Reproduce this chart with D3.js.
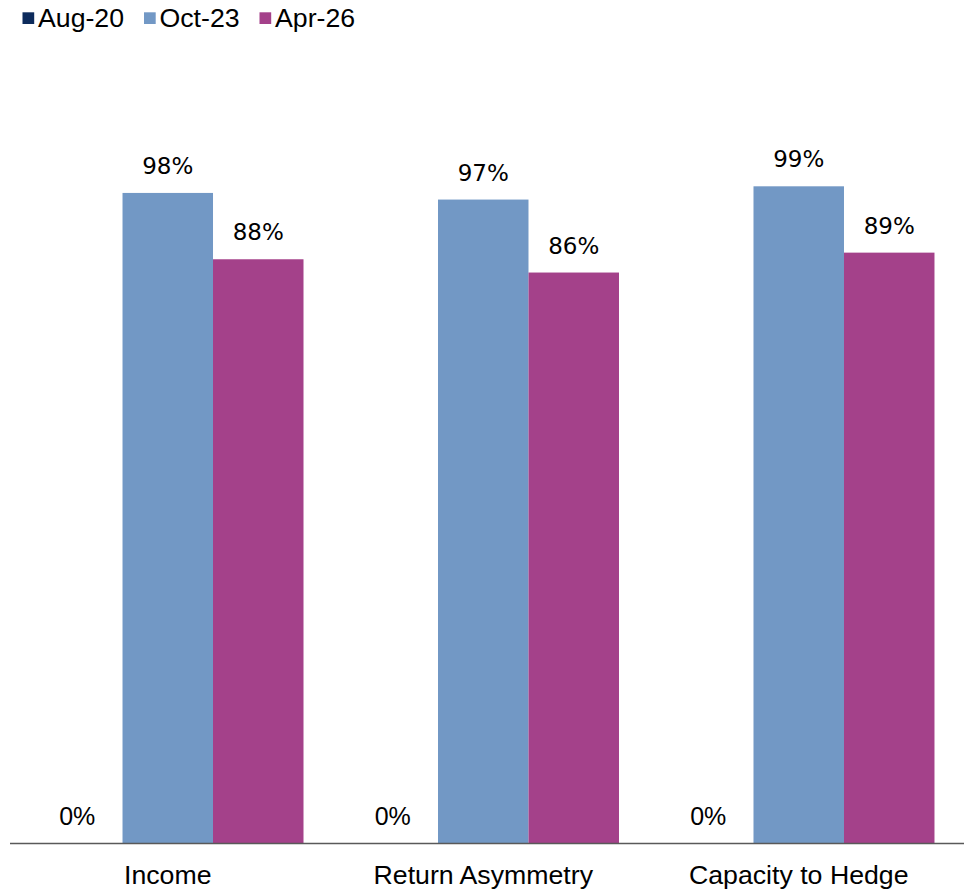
<!DOCTYPE html>
<html>
<head>
<meta charset="utf-8">
<script src="https://cdn.jsdelivr.net/npm/d3@7"></script>
<style>
  html, body { margin: 0; padding: 0; background: #fff; }
  svg { display: block; }
</style>
</head>
<body>
<svg id="chart" width="964" height="891"></svg>
<script>
// Survey shares by category for three periods
const categories = ["Income", "Return Asymmetry", "Capacity to Hedge"];
const seriesNames = ["Aug-20", "Oct-23", "Apr-26"];
const aug20 = [0, 0, 0];
const oct23 = [0.98, 0.97, 0.99];
const apr26 = [0.88, 0.86, 0.89];
const seriesColors = ["#0d2b5c", "#7298c5", "#a4418a"];

const seriesValues = [aug20, oct23, apr26];
const rows = categories.map((c, i) => ({
  category: c,
  values: seriesNames.map((s, j) => ({ series: s, value: seriesValues[j][i], idx: j }))
}));

const svg = d3.select("#chart");
const baseY = 843;

const x0 = d3.scaleBand()
  .domain(categories)
  .range([10, 956.5])
  .paddingInner(0.1395)
  .paddingOuter(0.0698);

const x1 = d3.scaleBand()
  .domain(seriesNames)
  .range([0, x0.bandwidth()]);

const y = d3.scaleLinear()
  .domain([0, 1.2])
  .range([baseY, 47]);

const color = d3.scaleOrdinal().domain(seriesNames).range(seriesColors);
const pct = d3.format(".0%");

// Bars
const groups = svg.append("g")
  .selectAll("g")
  .data(rows)
  .join("g")
  .attr("transform", d => `translate(${x0(d.category)},0)`);

groups.selectAll("rect")
  .data(d => d.values)
  .join("rect")
  .attr("x", d => x1(d.series))
  .attr("y", d => y(d.value))
  .attr("width", x1.bandwidth())
  .attr("height", d => baseY - y(d.value))
  .attr("fill", d => color(d.series));

// Value labels
groups.selectAll("text")
  .data(d => d.values)
  .join("text")
  .attr("x", d => x1(d.series) + x1.bandwidth() / 2)
  .attr("y", d => y(d.value) - (d.value === 0 ? 18 : 19))
  .attr("text-anchor", "middle")
  .attr("font-family", d => d.value === 0 ? "'Liberation Sans', Arial, sans-serif" : "'DejaVu Sans', Verdana, sans-serif")
  .attr("font-size", d => d.value === 0 ? 25 : 23)
  .attr("fill", "#000")
  .text(d => pct(d.value));

// Baseline axis
svg.append("line")
  .attr("x1", 10).attr("x2", 964)
  .attr("y1", baseY + 0.5).attr("y2", baseY + 0.5)
  .attr("stroke", "#595959")
  .attr("stroke-width", 1.5);

// Category labels
const xAxis = d3.axisBottom(x0).tickSize(0).tickPadding(0);
const axisG = svg.append("g")
  .attr("transform", `translate(0,${baseY})`)
  .call(xAxis);
axisG.select(".domain").remove();
axisG.selectAll("text")
  .attr("y", 41)
  .attr("dy", 0)
  .attr("font-family", "'Liberation Sans', Arial, sans-serif")
  .attr("font-size", 26.7)
  .attr("fill", "#000");

// Legend
const legendX = [22.5, 144, 259.5];
const legend = svg.append("g")
  .selectAll("g")
  .data(seriesNames)
  .join("g")
  .attr("transform", (d, i) => `translate(${legendX[i]},0)`);

legend.append("rect")
  .attr("x", 0).attr("y", 12.3)
  .attr("width", 11.7).attr("height", 11.7)
  .attr("fill", d => color(d));

legend.append("text")
  .attr("x", 15.5)
  .attr("y", 27.3)
  .attr("font-family", "'Liberation Sans', Arial, sans-serif")
  .attr("font-size", 26.7)
  .attr("fill", "#000")
  .text(d => d);
</script>
</body>
</html>
